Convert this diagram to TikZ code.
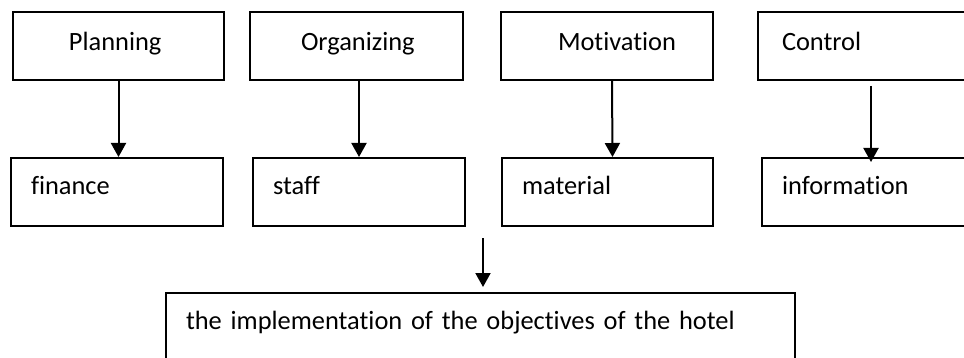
\documentclass[tikz,border=0pt]{standalone}
\usepackage{fontspec}
\setmainfont{Carlito}[Ligatures={NoCommon}]
\usetikzlibrary{arrows.meta}

\begin{document}
\begin{tikzpicture}[x=0.5pt,y=-0.5pt,>={Triangle[length=7pt,width=7.5pt]},
  box/.style={draw,line width=1pt,anchor=north west,inner xsep=0pt,inner ysep=0pt,
    align=left,font=\fontsize{13.2}{16}\selectfont},
  pad/.style={execute at begin node={\hspace*{#1}}},
  upper/.style={box,text height=19.5pt,text depth=14.5pt},
  lower/.style={box,text height=18pt,text depth=16pt},
  link/.style={->,line width=1pt}]
\path[use as bounding box,clip] (0,0) rectangle (964,358);

% functions
\node[upper,text width=105.5pt,pad=28pt] (planning) at (12,11) {Planning};
\node[upper,text width=106.5pt,pad=25.5pt] (organizing) at (249,11) {Organizing};
\node[upper,text width=106pt,pad=28.5pt] (motivation) at (500,11) {Motivation};
\node[upper,text width=130pt,pad=12pt] (control) at (757,11) {Control};

% resources
\node[lower,text width=106pt,pad=10pt] (finance) at (10,157) {finance};
\node[lower,text width=106pt,pad=10pt] (staff) at (252,157) {staff};
\node[lower,text width=105.5pt,pad=10pt] (material) at (501,157) {material};
\node[lower,text width=130pt,pad=10pt] (information) at (761,157) {information};

\node[box,text width=314.5pt,pad=10pt,text height=18pt,text depth=26pt] (goal) at (165,292)
  {the implementation of the objectives of the hotel};
\coordinate (gap) at (483,238);

\draw[link] (planning.south) -- (planning.south |- finance.north);
\draw[link] (organizing.south -| staff.north) -- (staff.north);
\draw[link] ([xshift=2.5pt]motivation.south) -- ([xshift=2.5pt]material.north);
\draw[link,shorten <=2.5pt,shorten >=-2.5pt] ([xshift=57pt]control.south west)
  -- ([xshift=55pt]information.north west);
\draw[link,shorten >=2.5pt] (gap) -- (gap |- goal.north);

\end{tikzpicture}
\end{document}
